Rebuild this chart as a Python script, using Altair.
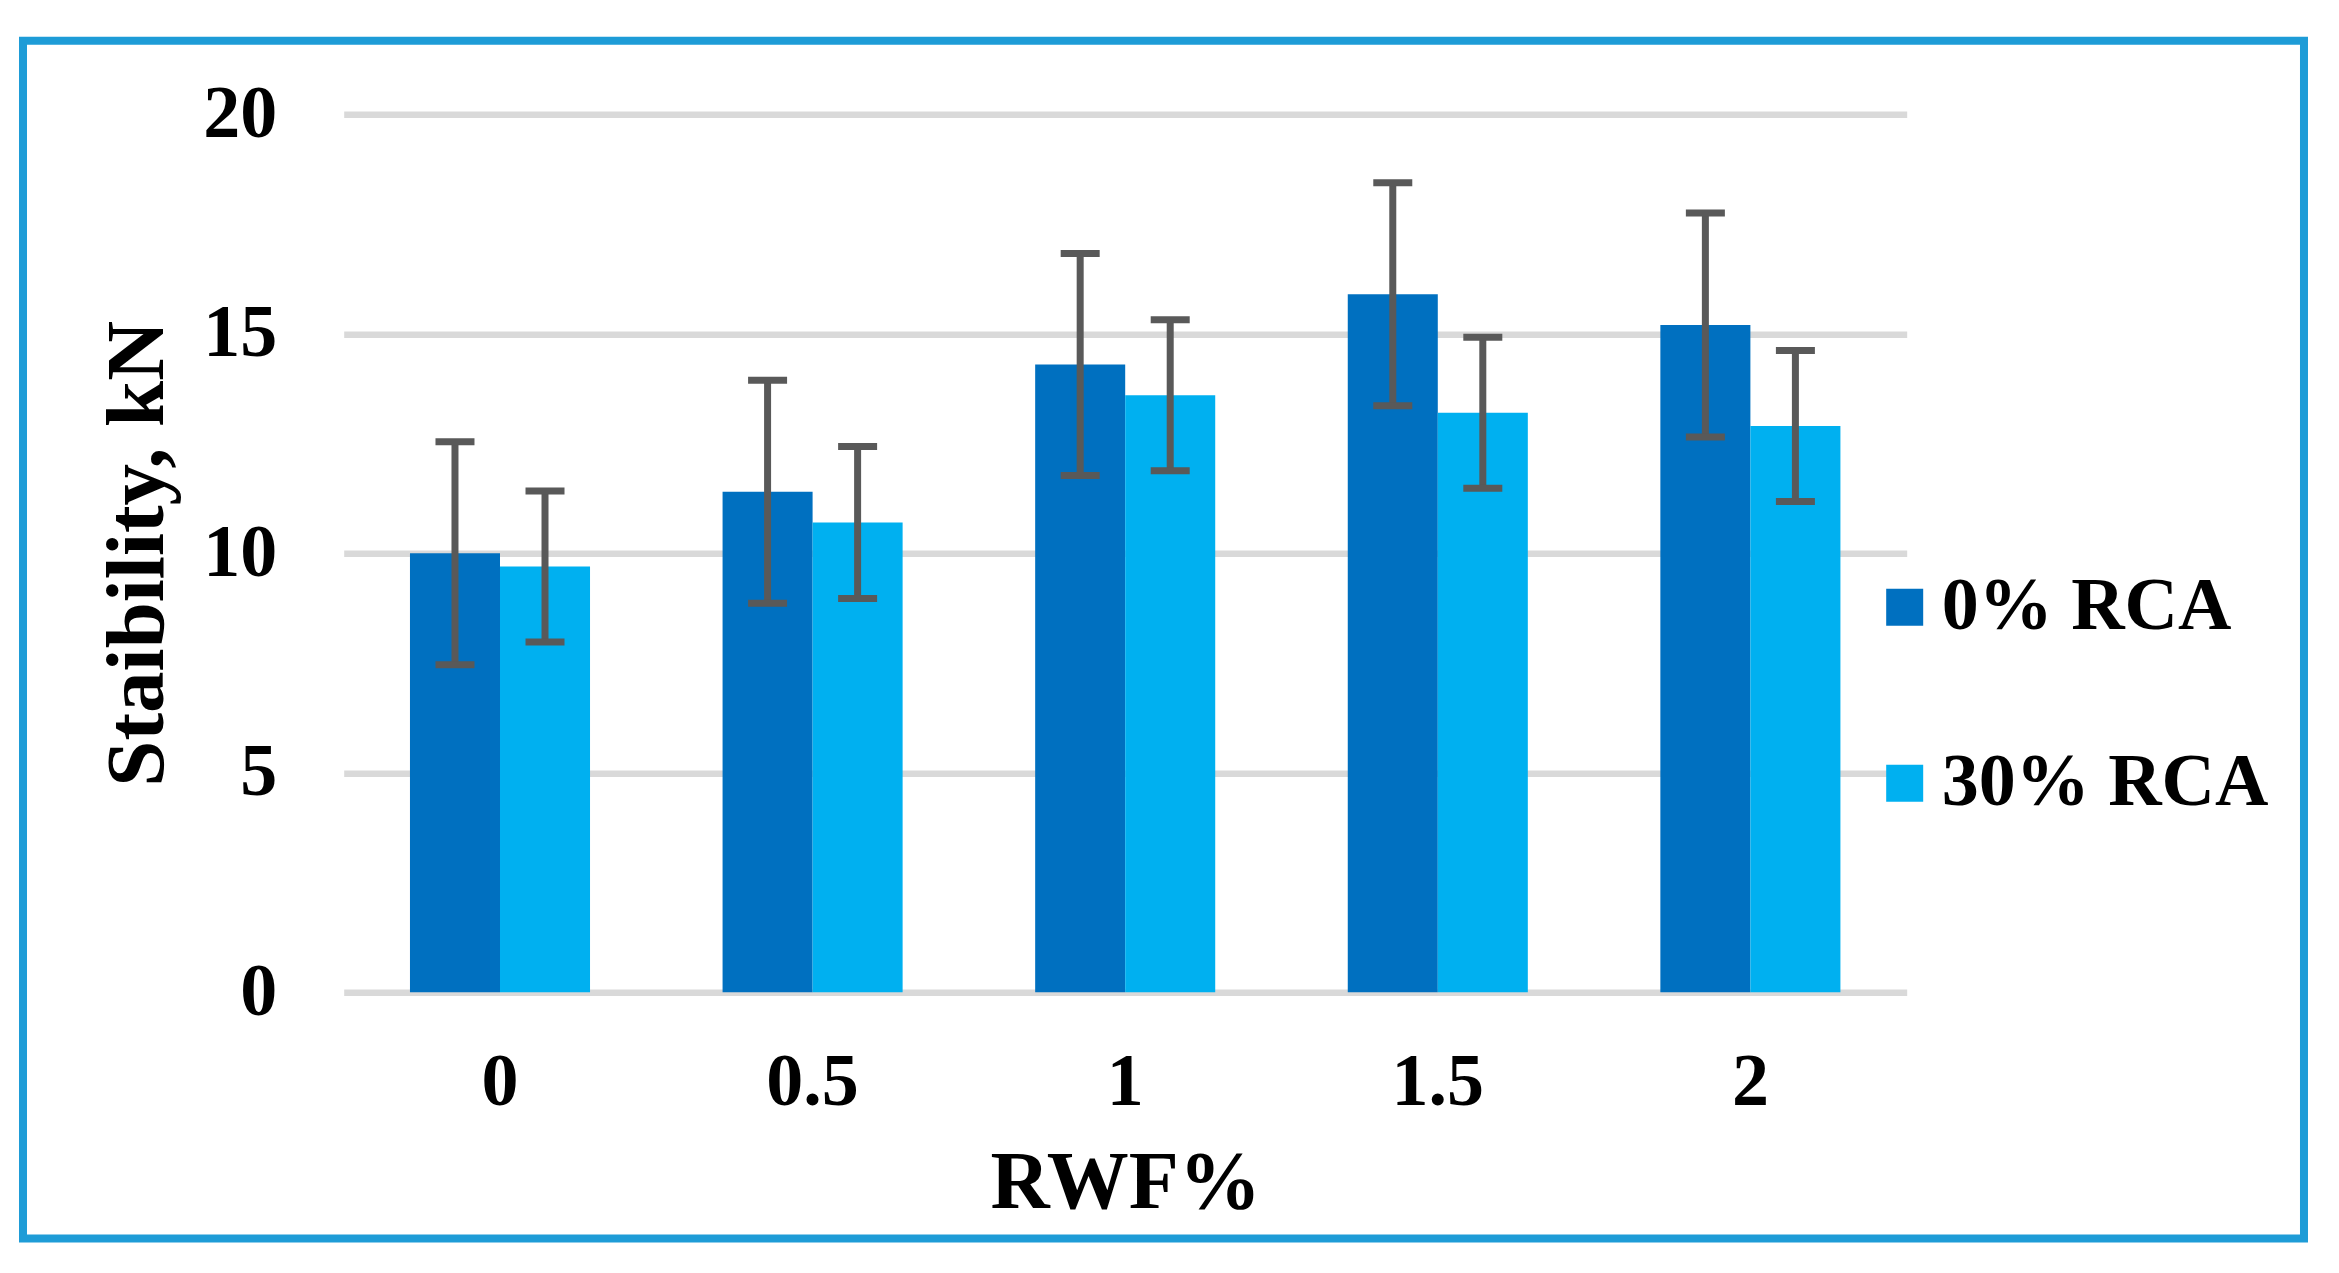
import altair as alt
import pandas as pd

rwf = ["0", "0.5", "1", "1.5", "2"]
series = ["0% RCA", "30% RCA"]
stab_0 = [10.0, 11.4, 14.3, 15.9, 15.2]
stab_30 = [9.7, 10.7, 13.6, 13.2, 12.9]
err_0 = [2.54, 2.54, 2.53, 2.54, 2.55]
err_30 = [1.72, 1.73, 1.72, 1.72, 1.72]
y_ticks = [0, 5, 10, 15, 20]
colors = ["#0070C0", "#00B0F0"]

rows = []
for i, c in enumerate(rwf):
    for s, vals, errs in ((series[0], stab_0, err_0), (series[1], stab_30, err_30)):
        rows.append({"RWF": c, "series": s, "value": vals[i],
                     "lo": round(vals[i] - errs[i], 3), "hi": round(vals[i] + errs[i], 3)})
df = pd.DataFrame(rows)

FONT = "Liberation Serif"
W, H = 1563, 878

x_axis = alt.Axis(labelAngle=0, domain=False, ticks=False, tickSize=0, grid=False,
                  labelFont=FONT, labelFontSize=74, labelFontWeight="bold", labelColor="black",
                  labelBaseline="alphabetic", labelPadding=112,
                  title="RWF%", titleFont=FONT, titleFontSize=82, titleFontWeight="bold",
                  titleColor="black", titleX=W / 2, titleY=215, titleAlign="center",
                  titleBaseline="alphabetic")
y_axis = alt.Axis(values=y_ticks, grid=True, gridColor="#D9D9D9", gridWidth=6.5,
                  domain=False, ticks=False, tickSize=0,
                  labelFont=FONT, labelFontSize=74, labelFontWeight="bold", labelColor="black",
                  labelPadding=67, labelBaseline="middle",
                  title="Staibility, kN", titleFont=FONT, titleFontSize=83, titleFontWeight="bold",
                  titleColor="black", titleX=-181, titleY=H / 2, titleAngle=270,
                  titleAlign="center", titleBaseline="alphabetic")

x_enc = alt.X("RWF:N", sort=rwf, scale=alt.Scale(paddingInner=0.424, paddingOuter=0.212),
              axis=x_axis, title="RWF%")
xo_enc = alt.XOffset("series:N", sort=series, scale=alt.Scale(paddingInner=0, paddingOuter=0))
y_scale = alt.Scale(domain=[0, 20], nice=False)

base = alt.Chart(df)

bars = base.mark_bar().encode(
    x=x_enc,
    xOffset=xo_enc,
    y=alt.Y("value:Q", scale=y_scale, axis=y_axis, title="Staibility, kN"),
    color=alt.Color("series:N", sort=series,
                    scale=alt.Scale(domain=series, range=colors),
                    legend=alt.Legend(orient="none", legendX=1524, legendY=456, title=None,
                                      symbolType="square", symbolSize=1369, symbolStrokeWidth=0,
                                      labelFont=FONT, labelFontSize=74, labelFontWeight="bold",
                                      labelColor="black", labelOffset=0, rowPadding=102,
                                      padding=0, labelLimit=800, direction="vertical")),
)

stems = base.mark_rule(color="#595959", strokeWidth=7).encode(
    x=x_enc, xOffset=xo_enc,
    y=alt.Y("lo:Q", scale=y_scale, title="Staibility, kN"),
    y2="hi:Q",
)
caps_lo = base.mark_tick(color="#595959", thickness=7, size=39, opacity=1).encode(
    x=x_enc, xOffset=xo_enc,
    y=alt.Y("lo:Q", scale=y_scale, title="Staibility, kN"),
)
caps_hi = base.mark_tick(color="#595959", thickness=7, size=39, opacity=1).encode(
    x=x_enc, xOffset=xo_enc,
    y=alt.Y("hi:Q", scale=y_scale, title="Staibility, kN"),
)

frame = alt.Chart(alt.Data(values=[{"k": 1}])).mark_rect(
    fillOpacity=0, stroke="#1E9CD7", strokeWidth=8
).encode(
    x=alt.value(-320.7), x2=alt.value(1960.3), y=alt.value(-73.6), y2=alt.value(1124.2)
)

chart = alt.layer(bars, stems, caps_lo, caps_hi, frame).properties(
    width=W, height=H,
    autosize=alt.AutoSizeParams(type="none"),
    padding={"left": 335.7, "top": 106.3, "right": 420, "bottom": 276},
    background="white",
).configure_view(stroke="transparent")

chart.save("out.html", embed_options={"renderer": "svg", "actions": False})
